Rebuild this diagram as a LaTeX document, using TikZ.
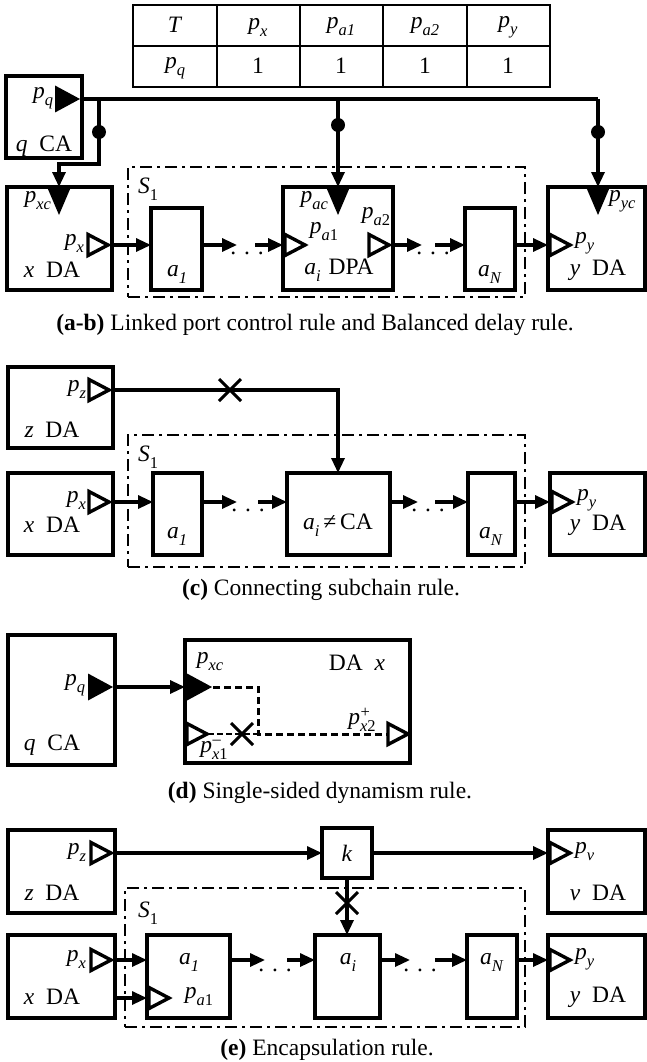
\documentclass[tikz,border=0pt]{standalone}
\usepackage{fontspec}
\setmainfont{Liberation Serif}
\usetikzlibrary{arrows.meta}

% italic symbol with hand-set sub- and superscripts in the text font
\newcommand{\mv}[1]{\textit{#1}}
\newcommand{\sbx}[1]{\raisebox{-0.3em}{\fontsize{16.5}{18}\selectfont #1}}
\newcommand{\spx}[1]{\raisebox{0.32em}{\fontsize{16.5}{18}\selectfont #1}}
\newcommand{\sbsp}[2]{\makebox[0pt][l]{\hspace{0.5pt}\spx{#2}}\sbx{#1}}

\tikzset{
  every node/.style={font=\fontsize{23.5}{27}\selectfont, inner sep=0pt, outer sep=0pt},
  blk/.style args={#1x#2}{draw, line width=3.6pt, minimum width=#1, minimum height=#2, anchor=north west},
  grp/.style args={#1x#2}{draw, line width=2.8pt, dash pattern=on 12pt off 5pt on 3pt off 5pt, minimum width=#1, minimum height=#2, anchor=north west},
  wire/.style={line width=3.2pt},
  conn/.style={line width=3.2pt, -{Triangle[length=15pt,width=13pt]}},
  dashw/.style={line width=3pt, dash pattern=on 7pt off 4pt},
  thindash/.style={line width=1.8pt, dash pattern=on 6pt off 3pt},
  junct/.style={circle, fill, minimum size=14pt},
  portH/.pic={\draw[line width=3.4pt, fill=white] (-20,-10.5) -- (0,0) -- (-20,10.5) -- cycle;},
  portF/.pic={\fill (-25,-13.5) -- (0,0) -- (-25,13.5) -- cycle;},
  portD/.pic={\fill (-11.5,0) -- (0,27) -- (11.5,0) -- cycle;},
  cut/.pic={\draw[line width=3pt] (-11,-11) -- (11,11) (-11,11) -- (11,-11);},
}

\begin{document}
\begin{tikzpicture}[x=1pt,y=-1pt]
\useasboundingbox (0,0) rectangle (647,1062);

% ---------- control table T ----------
\draw[line width=2pt] (133,5) rectangle (550,87);
\draw[line width=2pt] (133,46) -- (550,46)
  (217,5) -- (217,87) (300,5) -- (300,87) (383,5) -- (383,87) (467,5) -- (467,87);
\node (t00) at (175,25) {\mv{T}};
\node (t01) at (258,27) {\mv{p}\sbx{\mv{x}}};
\node (t02) at (341,27) {\mv{p}\sbx{\mv{a1}}};
\node (t03) at (425,27) {\mv{p}\sbx{\mv{a2}}};
\node (t04) at (508,27) {\mv{p}\sbx{\mv{y}}};
\node (t10) at (175,68) {\mv{p}\sbx{\mv{q}}};
\node (t11) at (258,66) {1};
\node (t12) at (341,66) {1};
\node (t13) at (425,66) {1};
\node (t14) at (508,66) {1};

% ---------- (a-b) ----------
\node[grp=397x130] (sA) at (128,167) {};
\node[blk=76x82] (qA) at (6,76) {};
\node[blk=105x103] (xA) at (7,187) {};
\node[blk=51x82] (a1A) at (151,208) {};
\node[blk=110x103] (aiA) at (283,187) {};
\node[blk=50x82] (aNA) at (465,208) {};
\node[blk=97x103] (yA) at (548,187) {};

\pic at (80,99) {portF};
\pic at (59,188) {portD};
\pic at (338,188) {portD};
\pic at (598,188) {portD};

\coordinate (pqA) at (82,99);
\coordinate (jx) at (99,99);
\coordinate (ja) at (338,99);
\coordinate (jy) at (598,99);
\coordinate (xcA) at (59,187);
\coordinate (acA) at (338,187);
\coordinate (ycA) at (598,187);
\draw[wire] (pqA) -- (jy);
\draw[conn] (jx) -- (99,164) -| (xcA);
\draw[conn] (ja) -- (acA);
\draw[conn] (jy) -- (ycA);
\node[junct] (dx) at (99,132) {};
\node[junct] (da) at (338,125) {};
\node[junct] (dy) at (598,132) {};

\coordinate (rowA) at (0,245);
\draw[conn] (xA.east |- rowA) -- (a1A.west |- rowA);
\coordinate (e1A) at (237,245);
\coordinate (s1A) at (255,245);
\draw[conn] (a1A.east |- rowA) -- (e1A);
\draw[conn] (s1A) -- (aiA.west |- rowA);
\coordinate (e2A) at (422,245);
\coordinate (s2A) at (435,245);
\draw[conn] (aiA.east |- rowA) -- (e2A);
\draw[conn] (s2A) -- (aNA.west |- rowA);
\draw[conn] (aNA.east |- rowA) -- (yA.west |- rowA);
\node (dotsA1) at (247,253) {.\,\,.\,\,.};
\node (dotsA2) at (433,253) {.\,\,.\,\,.};

\pic at (108,245) {portH};
\pic at (305,245) {portH};
\pic at (389,245) {portH};
\pic at (570,245) {portH};

\node[anchor=east] (lpq) at (53,98) {\mv{p}\sbx{\mv{q}}};
\node (lqA) at (44,146) {\mv{q}\,\,\,CA};
\node[anchor=east] (lxc) at (51,201) {\mv{p}\sbx{\mv{xc}}};
\node[anchor=east] (lpx) at (84,243) {\mv{p}\sbx{\mv{x}}};
\node (lxA) at (52,270) {\mv{x}\,\,\,DA};
\node (lS1) at (148,189) {\mv{S}\sbx{1}};
\node (la1) at (177,274) {\mv{a}\sbx{\mv{1}}};
\node[anchor=east] (lac) at (328,201) {\mv{p}\sbx{\mv{ac}}};
\node (lpa1) at (324,232) {\mv{p}\sbx{\mv{a}1}};
\node (lpa2) at (376,217) {\mv{p}\sbx{\mv{a}2}};
\node (laiA) at (339,270) {\mv{a}\sbx{\mv{i}}\,\,DPA};
\node (laN) at (490,274) {\mv{a}\sbx{\mv{N}}};
\node[anchor=west] (lyc) at (609,201) {\mv{p}\sbx{\mv{yc}}};
\node[anchor=west] (lpy) at (575,243) {\mv{p}\sbx{\mv{y}}};
\node (lyA) at (598,270) {\mv{y}\,\,\,DA};
\node (capA) at (315,325) {\textbf{(a-b)} Linked port control rule and Balanced delay rule.};

% ---------- (c) ----------
\node[grp=397x132] (sC) at (128,435) {};
\node[blk=105x81] (zC) at (8,367) {};
\node[blk=105x82] (xC) at (8,473) {};
\node[blk=49x82] (a1C) at (153,473) {};
\node[blk=103x82] (aiC) at (287,473) {};
\node[blk=47x82] (aNC) at (468,473) {};
\node[blk=95x82] (yC) at (550,473) {};

\coordinate (pzC) at (113,390);
\coordinate (bendC) at (338,390);
\draw[conn] (pzC) -- (bendC) -- (aiC.north -| bendC);
\pic at (230,390) {cut};

\coordinate (rowC) at (0,502);
\draw[conn] (xC.east |- rowC) -- (a1C.west |- rowC);
\coordinate (e1C) at (237,502);
\coordinate (s1C) at (258,502);
\draw[conn] (a1C.east |- rowC) -- (e1C);
\draw[conn] (s1C) -- (aiC.west |- rowC);
\coordinate (e2C) at (418,502);
\coordinate (s2C) at (435,502);
\draw[conn] (aiC.east |- rowC) -- (e2C);
\draw[conn] (s2C) -- (aNC.west |- rowC);
\draw[conn] (aNC.east |- rowC) -- (yC.west |- rowC);
\node (dotsC1) at (248,510) {.\,\,.\,\,.};
\node (dotsC2) at (428,510) {.\,\,.\,\,.};

\pic at (109,390) {portH};
\pic at (109,502) {portH};
\pic at (572,502) {portH};

\node[anchor=east] (lpzC) at (86,389) {\mv{p}\sbx{\mv{z}}};
\node (lzC) at (52,430) {\mv{z}\,\,\,DA};
\node[anchor=east] (lpxC) at (86,500) {\mv{p}\sbx{\mv{x}}};
\node (lxC) at (52,525) {\mv{x}\,\,\,DA};
\node (lS1C) at (148,457) {\mv{S}\sbx{1}};
\node (la1C) at (177,536) {\mv{a}\sbx{\mv{1}}};
\node (laiC) at (338,525) {\mv{a}\sbx{\mv{i}}\,\symbol{"2260}\,CA};
\node (laNC) at (491,536) {\mv{a}\sbx{\mv{N}}};
\node[anchor=west] (lpyC) at (577,500) {\mv{p}\sbx{\mv{y}}};
\node (lyC) at (598,525) {\mv{y}\,\,\,DA};
\node (capC) at (321,590) {\textbf{(c)} Connecting subchain rule.};

% ---------- (d) ----------
\node[blk=107x130] (qD) at (8,635) {};
\node[blk=225x123] (xD) at (185,640) {};

\coordinate (rowD) at (0,687);
\draw[conn] (qD.east |- rowD) -- (xD.west |- rowD);
\pic at (113,687) {portF};
\pic at (212,687) {portF};

\coordinate (xcD) at (213,687);
\coordinate (kneeD) at (258,687);
\coordinate (joinD) at (258,734);
\coordinate (x1D) at (208,734);
\coordinate (x2D) at (388,734);
\draw[dashw] (xcD) -- (kneeD) -- (joinD) -- (x2D);
\draw[thindash] (x1D) -- (joinD);
\pic at (242,734) {cut};
\pic at (207,734) {portH};
\pic at (408,734) {portH};

\node[anchor=east] (lpqD) at (85,685) {\mv{p}\sbx{\mv{q}}};
\node (lqD) at (52,745) {\mv{q}\,\,\,CA};
\node (lxcD) at (210,662) {\mv{p}\sbx{\mv{xc}}};
\node (lxD) at (357,663) {DA\,\,\,\mv{x}};
\node (lx1D) at (214,750) {\mv{p}\sbsp{\mv{x}1}{--}};
\node (lx2D) at (362,720) {\mv{p}\sbsp{\mv{x}2}{+}};
\node (capD) at (320,793) {\textbf{(d)} Single-sided dynamism rule.};

% ---------- (e) ----------
\node[grp=400x139] (sE) at (125,888) {};
\node[blk=107x83] (zE) at (8,830) {};
\node[blk=50x50] (kE) at (322,828) {};
\node[blk=97x83] (vE) at (548,830) {};
\node[blk=107x83] (xE) at (8,935) {};
\node[blk=83x83] (a1E) at (147,935) {};
\node[blk=65x83] (aiE) at (315,935) {};
\node[blk=50x83] (aNE) at (467,935) {};
\node[blk=97x83] (yE) at (548,935) {};

\coordinate (rowZ) at (0,853);
\draw[conn] (zE.east |- rowZ) -- (kE.west |- rowZ);
\draw[conn] (kE.east |- rowZ) -- (vE.west |- rowZ);
\draw[conn] (kE.south) -- (aiE.north -| kE.south);
\pic at (347,903) {cut};

\coordinate (rowE) at (0,960);
\coordinate (rowE2) at (0,998);
\draw[conn] (xE.east |- rowE) -- (a1E.west |- rowE);
\draw[conn] (xE.east |- rowE2) -- (a1E.west |- rowE2);
\coordinate (e1E) at (265,960);
\coordinate (s1E) at (287,960);
\draw[conn] (a1E.east |- rowE) -- (e1E);
\draw[conn] (s1E) -- (aiE.west |- rowE);
\coordinate (e2E) at (410,960);
\coordinate (s2E) at (435,960);
\draw[conn] (aiE.east |- rowE) -- (e2E);
\draw[conn] (s2E) -- (aNE.west |- rowE);
\draw[conn] (aNE.east |- rowE) -- (yE.west |- rowE);
\node (dotsE1) at (275,970) {.\,\,.\,\,.};
\node (dotsE2) at (420,970) {.\,\,.\,\,.};

\pic at (111,853) {portH};
\pic at (570,853) {portH};
\pic at (111,960) {portH};
\pic at (169,998) {portH};
\pic at (570,960) {portH};

\node[anchor=east] (lpzE) at (86,852) {\mv{p}\sbx{\mv{z}}};
\node (lzE) at (52,893) {\mv{z}\,\,\,DA};
\node (lkE) at (347,853) {\mv{k}};
\node[anchor=west] (lpvE) at (575,852) {\mv{p}\sbx{\mv{v}}};
\node (lvE) at (598,893) {\mv{v}\,\,\,DA};
\node (lS1E) at (148,913) {\mv{S}\sbx{1}};
\node[anchor=east] (lpxE) at (86,959) {\mv{p}\sbx{\mv{x}}};
\node (lxE) at (52,997) {\mv{x}\,\,\,DA};
\node (la1E) at (189,962) {\mv{a}\sbx{\mv{1}}};
\node (lpa1E) at (199,997) {\mv{p}\sbx{\mv{a}1}};
\node (laiE) at (348,962) {\mv{a}\sbx{\mv{i}}};
\node (laNE) at (492,962) {\mv{a}\sbx{\mv{N}}};
\node[anchor=west] (lpyE) at (575,959) {\mv{p}\sbx{\mv{y}}};
\node (lyE) at (598,997) {\mv{y}\,\,\,DA};
\node (capE) at (327,1050) {\textbf{(e)} Encapsulation rule.};
\end{tikzpicture}
\end{document}
